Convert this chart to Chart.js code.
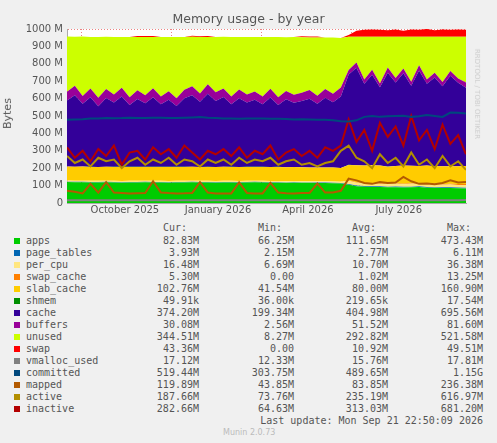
<!DOCTYPE html>
<html><head><meta charset="utf-8">
<script src="https://cdn.jsdelivr.net/npm/chart.js@4.4.1/dist/chart.umd.min.js"></script>
<style>
body{margin:0;background:#F0F0F0;width:497px;height:443px;position:relative;overflow:hidden;font-family:"DejaVu Sans",sans-serif}
#wrap{position:absolute;left:0;top:0;width:497px;height:218px}
.t{position:absolute;white-space:pre;color:#555}
.m{font-family:"DejaVu Sans Mono",monospace;font-size:10px;color:#555}
.sq{position:absolute;width:6px;height:6px}
</style></head><body>
<div id="wrap"><canvas id="c" width="497" height="218"></canvas></div>
<div class="t" style="left:0;width:497px;text-align:center;top:11px;font-size:12.5px;color:#555">Memory usage - by year</div>
<div class="t" style="left:-8px;top:107px;font-size:11px;transform:rotate(-90deg)">Bytes</div>
<div class="t" style="left:432px;top:90px;font-size:7px;color:#ccc;transform:rotate(90deg)">RRDTOOL / TOBI OETIKER</div>
<div id="leg"></div>
<script>
const weeks = Array.from({length:52},(_,i)=>i);
const apps=[120,119,119,118,118,119,118,117,118,118,119,118,118,117,118,118,119,118,118,117,118,118,117,118,119,118,117,117,116,117,116,116,115,115,114,112,105,96,94,92,92,90,91,89,90,92,88,87,86,86,85,84];
const page_tables=[2.5,2.5,2.5,2.5,2.5,2.5,2.5,2.5,2.5,2.5,2.5,2.5,2.5,2.5,2.5,2.5,2.5,2.5,2.5,2.5,2.5,2.5,2.5,2.5,2.5,2.5,2.5,2.5,2.5,2.5,2.5,2.5,2.5,2.5,2.5,2.5,4,4,4,4,4,4,4,4,4,4,4,4,4,4,4,4];
const per_cpu=[7,7,7,7,7,7,7,7,7,7,7,7,7,7,7,7,7,7,7,7,7,7,7,7,7,7,7,7,7,7,7,7,7,7,7,7,18,16,15,16,15,14,16,15,16,15,16,16,15,16,15,16];
const swap_cache=[0,0,0,0,0,0,0,0,0,0,0,0,0,0,0,0,0,0,0,0,0,0,0,0,0,0,0,0,0,0,0,0,0,0,0,0,2,3,2,3,4,3,2,3,4,3,5,4,3,4,5,5];
const slab_cache=[80,80,81,80,79,80,80,81,80,80,79,80,80,81,80,80,80,79,80,80,81,80,80,80,79,80,80,81,80,80,80,79,80,80,81,80,90,98,100,102,100,98,100,104,100,98,102,100,103,101,102,103];
const shmem=[0.2,0.2,0.2,0.2,0.2,0.2,0.2,0.2,0.2,0.2,0.2,0.2,0.2,0.2,0.2,0.2,0.2,0.2,0.2,0.2,0.2,0.2,0.2,0.2,0.2,0.2,0.2,0.2,0.2,0.2,0.2,0.2,0.2,0.2,0.2,0.2,0.2,0.2,0.2,0.2,0.2,0.2,0.2,0.2,0.2,0.2,0.2,0.2,0.2,0.2,0.2,0.2];
const cache=[380,410,360,400,350,395,370,405,355,390,365,400,360,385,350,395,410,375,420,380,400,360,395,370,385,360,400,355,390,370,380,395,365,400,375,410,520,560,470,520,450,540,480,530,460,550,470,510,460,520,480,450];
const buffers=[50,55,45,50,48,52,46,50,45,50,47,52,45,50,44,48,52,48,55,50,50,45,50,46,48,44,50,45,48,46,48,50,46,50,48,52,25,30,25,28,22,30,25,28,22,30,25,28,24,28,25,30];
const unused=[317,282,342,297,349,300,331,292,347,307,335,295,342,312,353,304,285,324,272,317,297,342,302,331,314,343,297,347,309,331,319,302,336,297,324,285,191,148,245,190,268,176,237,182,259,163,245,206,260,196,239,263];
const swap=[0,0,0,0,0,0,0,0,0,5,5,5,0,0,0,0,5,5,5,0,0,0,0,0,0,0,0,0,0,0,5,5,5,0,0,0,10,35,40,42,40,38,42,35,42,40,45,38,42,40,42,40];
const vmalloc_used=[16,16,16,16,16,16,16,16,16,16,16,16,16,16,16,16,16,16,16,16,16,16,16,16,16,16,16,16,16,16,16,16,16,16,16,16,16,16,16,16,16,16,16,16,16,16,16,16,16,16,16,17];
const committed=[478,480,482,485,486,488,487,488,490,488,489,490,490,489,488,490,492,494,490,488,486,485,484,485,486,485,484,484,483,480,482,480,478,478,475,470,468,475,495,500,495,498,500,502,495,498,505,500,495,520,518,515];
const mapped=[70,65,55,110,60,120,60,58,55,56,57,125,60,57,55,56,58,120,60,55,54,55,118,58,55,55,115,60,56,55,57,58,112,60,60,70,140,130,115,110,120,115,118,150,125,110,112,108,115,130,118,120];
const active=[270,230,250,210,260,240,250,200,240,260,220,250,230,260,220,250,240,210,250,230,250,220,260,230,250,240,260,220,240,250,220,230,210,230,240,300,330,260,240,200,280,230,260,210,290,220,250,200,270,210,240,190];
const inactive=[320,260,300,240,310,270,330,220,290,300,250,320,280,310,260,330,290,250,300,280,310,270,320,260,300,280,330,250,290,310,270,300,260,320,300,330,480,350,420,300,460,380,440,330,500,360,420,310,450,340,390,280];
const yTicks=[0,100,200,300,400,500,600,700,800,900,1000];
const xLabels=[[7.4,'October 2025'],[19.3,'January 2026'],[30.8,'April 2026'],[42.4,'July 2026']];
const xGrid=[1.8,13.3,24.9,36.4,48.0];
const legNames=['apps','page_tables','per_cpu','swap_cache','slab_cache','shmem','cache','buffers','unused','swap','vmalloc_used','committed','mapped','active','inactive'];
const legColors=['#00CC00','#0066B3','#FFE680','#FF8000','#FFCC00','#008F00','#330099','#990099','#CCFF00','#FF0000','#808080','#00487D','#B35A00','#B38F00','#B30000'];
const legCur=['82.83M','3.93M','16.48M','5.30M','102.76M','49.91k','374.20M','30.08M','344.51M','43.36M','17.12M','519.44M','119.89M','187.66M','282.66M'];
const legMin=['66.25M','2.15M','6.69M','0.00','41.54M','36.00k','199.34M','2.56M','8.27M','0.00','12.33M','303.75M','43.85M','73.76M','64.63M'];
const legAvg=['111.65M','2.77M','10.70M','1.02M','80.00M','219.65k','404.98M','51.52M','292.82M','10.92M','15.76M','489.65M','83.85M','235.19M','313.03M'];
const legMax=['473.43M','6.11M','36.38M','13.25M','160.90M','17.54M','695.56M','81.60M','521.58M','49.51M','17.81M','1.15G','236.38M','616.97M','681.20M'];

const areas=[apps,page_tables,per_cpu,swap_cache,slab_cache,shmem,cache,buffers,unused,swap];
const lines=[vmalloc_used,committed,mapped,active,inactive];
const ds=[];
areas.forEach((d,i)=>ds.push({data:d,stack:'a',backgroundColor:legColors[i],borderWidth:0,pointRadius:0,fill:i?'-1':'origin',tension:0,order:5}));
lines.forEach((d,i)=>ds.push({data:d,stack:'l'+i,borderColor:legColors[10+i],borderWidth:2,pointRadius:0,fill:false,tension:0,order:-1}));
const xt=[...xGrid.map(v=>({v,g:1})),...xLabels.map(([v,l])=>({v,l}))].sort((a,b)=>a.v-b.v);
new Chart(document.getElementById('c'),{type:'line',data:{labels:weeks,datasets:ds},
options:{animation:false,responsive:false,events:[],
layout:{padding:{left:0,right:31,top:29,bottom:0}},
plugins:{legend:{display:false},tooltip:{enabled:false}},
scales:{
x:{type:'linear',min:0,max:51,afterBuildTicks:s=>{s.ticks=xt.map(t=>({value:t.v}));},
 afterFit:s=>{s.height=15;},
 ticks:{autoSkip:false,maxRotation:0,font:{family:'DejaVu Sans',size:10},color:'#555',padding:1,
  callback:(v,i)=>xt[i].l||''},
 grid:{color:c=>xt[c.index]&&xt[c.index].g?'rgba(230,100,100,0.8)':'rgba(0,0,0,0)',drawTicks:false},border:{display:true,color:'#aaa',dash:[1,2]}},
y:{stacked:true,min:0,max:1000,afterBuildTicks:s=>{s.ticks=yTicks.map(v=>({value:v}));},
 afterFit:s=>{s.width=67;},
 ticks:{font:{family:'DejaVu Sans',size:10},color:'#555',padding:4,callback:v=>v===0?'0':v+' M'},
 grid:{color:'rgba(230,100,100,0.8)',drawTicks:false},border:{color:'#aaa',dash:[1,2]}}
}},
plugins:[{id:'bg',beforeDraw(ch){const a=ch.chartArea,x=ch.ctx;x.save();x.fillStyle='#fff';x.fillRect(a.left,a.top,a.right-a.left,a.bottom-a.top);x.restore();}}]
});
const leg=document.getElementById('leg');
let h='';
const cols=[[199,'Cur:'],[294,'Min:'],[388,'Avg:'],[483,'Max:']];
cols.forEach(([r,t])=>h+=`<div class="t m" style="right:${497-r+12}px;top:222px">${t}</div>`);
legNames.forEach((n,i)=>{const y=235+12*i;
 h+=`<div class="sq" style="left:14px;top:${y+3}px;background:${legColors[i]}"></div>`;
 h+=`<div class="t m" style="left:26px;top:${y}px">${n}</div>`;
 [legCur,legMin,legAvg,legMax].forEach((a,k)=>h+=`<div class="t m" style="right:${497-cols[k][0]}px;top:${y}px">${a[i]}</div>`);
});
h+=`<div class="t m" style="right:14px;top:415px">Last update: Mon Sep 21 22:50:09 2026</div>`;
h+=`<div class="t" style="left:223px;top:428px;font-size:8px;color:#bbb">Munin 2.0.73</div>`;
leg.innerHTML=h;
</script></body></html>
